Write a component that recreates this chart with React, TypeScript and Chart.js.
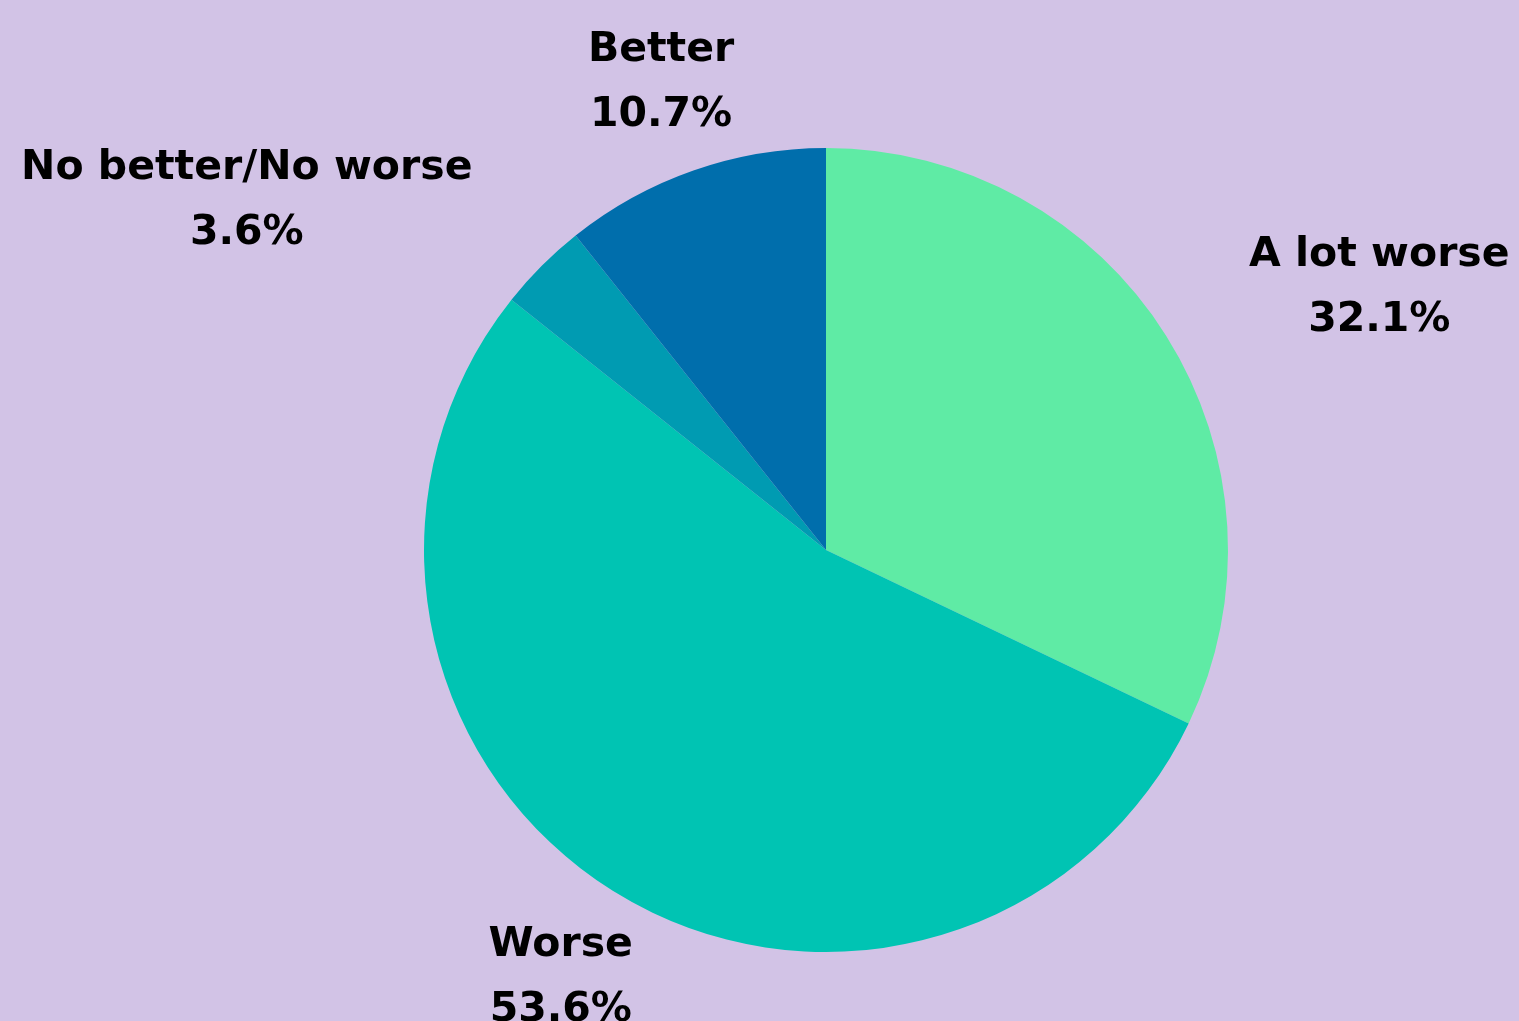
import React, { useEffect, useRef } from "react";
import { Chart, registerables } from "chart.js";

Chart.register(...registerables);

const categories = ["A lot worse", "Worse", "No better/No worse", "Better"];
const values = [32.1, 53.6, 3.6, 10.7];
const valueLabels = ["32.1%", "53.6%", "3.6%", "10.7%"];
const colors = ["#5FEBA5", "#00C4B3", "#009BB2", "#006EAC"];
const background = "#D2C3E6";

const labelPlugin = {
  id: "outsideLabels",
  afterDatasetsDraw(chart: any) {
    const ctx = chart.ctx;
    const meta = chart.getDatasetMeta(0);
    ctx.save();
    ctx.fillStyle = "#000";
    ctx.font = "bold 41px 'DejaVu Sans'";
    ctx.textBaseline = "middle";
    meta.data.forEach((arc: any, i: number) => {
      const mid = (arc.startAngle + arc.endAngle) / 2;
      const r = arc.outerRadius + 98;
      const c = Math.cos(mid);
      const s = Math.sin(mid);
      const x = arc.x + r * c;
      const y = arc.y + r * s;
      const align = Math.abs(c) < 0.6 ? "center" : c > 0 ? "left" : "right";
      ctx.textAlign = align;
      const lines = [categories[i], valueLabels[i]];
      ctx.fillText(lines[0], x, y - 28);
      const w = ctx.measureText(lines[0]).width;
      let cx = x;
      if (align === "left") cx = x + w / 2;
      if (align === "right") cx = x - w / 2;
      ctx.textAlign = "center";
      ctx.fillText(lines[1], cx, y + 37);
    });
    ctx.restore();
  },
};

export default function App() {
  const ref = useRef<HTMLCanvasElement>(null);
  useEffect(() => {
    document.body.style.margin = "0";
    const chart = new Chart(ref.current!, {
      type: "pie",
      data: {
        labels: categories,
        datasets: [
          {
            data: values,
            backgroundColor: colors,
            borderWidth: 0,
          },
        ],
      },
      options: {
        animation: false,
        responsive: false,
        radius: 402,
        layout: { padding: { left: 133, top: 79 } },
        plugins: { legend: { display: false }, tooltip: { enabled: false } },
      },
      plugins: [labelPlugin],
    });
    return () => chart.destroy();
  }, []);
  return (
    <div style={{ width: 1519, height: 1021, background }}>
      <canvas ref={ref} width={1519} height={1021} style={{ display: "block" }} />
    </div>
  );
}
